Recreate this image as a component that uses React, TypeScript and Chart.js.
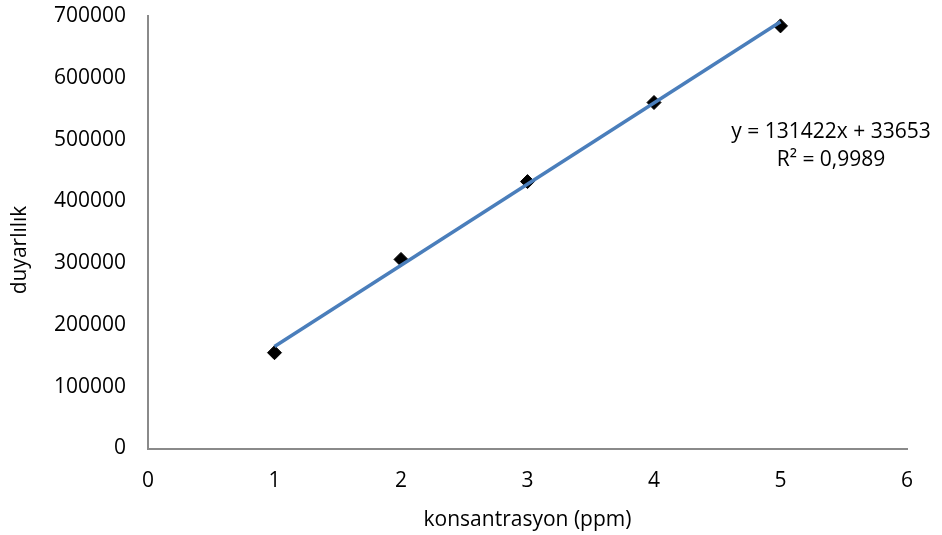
import React, { useEffect, useRef } from "react";
import { Chart, registerables } from "chart.js";

Chart.register(...registerables);

const concentrations = [1, 2, 3, 4, 5];
const responses = [155000, 306000, 432000, 560000, 684000];
const trendX = [1, 5];
const trendY = [165075, 690763];
const xTicks = [0, 1, 2, 3, 4, 5, 6];
const yTicks = [0, 100000, 200000, 300000, 400000, 500000, 600000, 700000];
const equationLines = ["y = 131422x + 33653", "R² = 0,9989"];
const xTitle = "konsantrasyon (ppm)";
const yTitle = "duyarlılık";

const FONT = "'Open Sans', sans-serif";
const FS = 21;

const annotationPlugin = {
  id: "annot",
  afterDraw(chart: any) {
    const ctx = chart.ctx;
    ctx.save();
    ctx.fillStyle = "#000";
    ctx.font = `${FS}px ${FONT}`;
    ctx.textAlign = "center";
    ctx.textBaseline = "middle";
    ctx.fillText(equationLines[0], 831, 132);
    ctx.fillText(equationLines[1], 831, 160);
    ctx.translate(20, 250);
    ctx.rotate(-Math.PI / 2);
    ctx.fillText(yTitle, 0, 0);
    ctx.restore();
  },
};

export default function App() {
  const ref = useRef<HTMLCanvasElement>(null);
  useEffect(() => {
    if (!ref.current) return;
    const chart = new Chart(ref.current, {
      type: "scatter",
      data: {
        datasets: [
          {
            label: "trend",
            data: trendX.map((x, i) => ({ x, y: trendY[i] })),
            showLine: true,
            borderColor: "#4A7EBB",
            borderWidth: 3.5,
            pointRadius: 0,
            order: 0,
          },
          {
            label: "data",
            data: concentrations.map((x, i) => ({ x, y: responses[i] })),
            pointStyle: "rectRot",
            pointRadius: 7,
            backgroundColor: "#000",
            borderColor: "#000",
            borderWidth: 1,
            order: 1,
          },
        ],
      },
      options: {
        animation: false,
        responsive: false,
        maintainAspectRatio: false,
        layout: { padding: { top: 16, right: 35, left: 0, bottom: 0 } },
        plugins: {
          legend: { display: false },
          tooltip: { enabled: false },
        },
        scales: {
          x: {
            type: "linear",
            min: 0,
            max: 6,
            afterBuildTicks: (s: any) => {
              s.ticks = xTicks.map((v) => ({ value: v }));
            },
            afterFit: (s: any) => {
              s.height = 86.5;
            },
            grid: { display: false, drawTicks: false },
            border: { display: true, color: "#8a8a8a", width: 2 },
            ticks: {
              color: "#000",
              font: { family: FONT, size: FS },
              padding: 20,
              callback: (v: any) => String(v),
            },
            title: {
              display: true,
              text: xTitle,
              color: "#000",
              font: { family: FONT, size: FS },
              padding: { top: 0, bottom: 2 },
            },
          },
          y: {
            type: "linear",
            min: 0,
            max: 700000,
            afterBuildTicks: (s: any) => {
              s.ticks = yTicks.map((v) => ({ value: v }));
            },
            afterFit: (s: any) => {
              s.width = 148;
              s.paddingTop = 0;
              s.paddingBottom = 0;
            },
            grid: { display: false, drawTicks: false },
            border: { display: true, color: "#8a8a8a", width: 2 },
            ticks: {
              color: "#000",
              font: { family: FONT, size: FS },
              padding: 22,
              callback: (v: any) => String(v),
            },
          },
        },
      },
      plugins: [annotationPlugin],
    });
    return () => chart.destroy();
  }, []);
  return (
    <div style={{ position: "fixed", left: 0, top: 0, width: 942, height: 535, background: "#fff" }}>
      <canvas ref={ref} width={942} height={535} style={{ width: 942, height: 535 }} />
    </div>
  );
}
